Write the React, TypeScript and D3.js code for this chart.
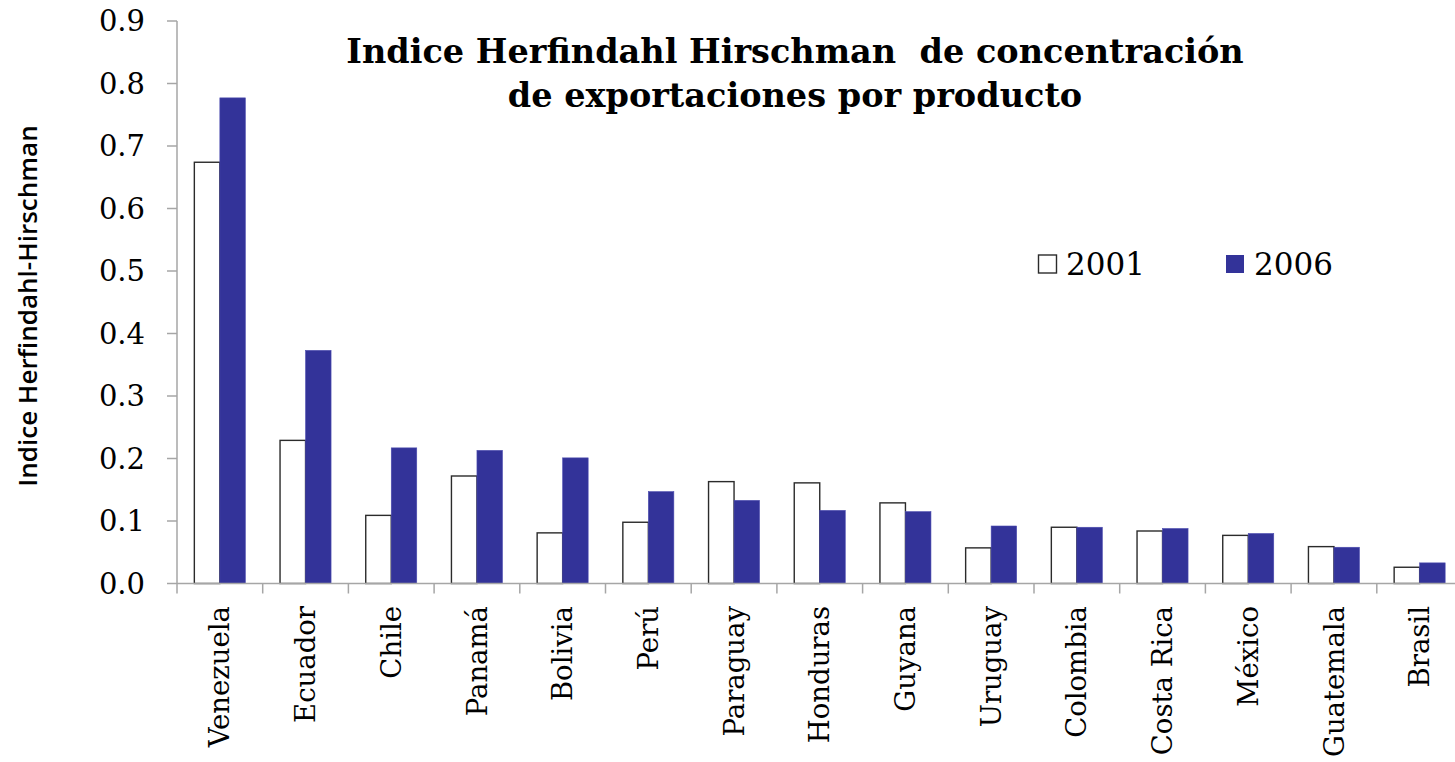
import React from "react";
import * as d3 from "d3";

const categories = [
  "Venezuela", "Ecuador", "Chile", "Panamá", "Bolivia", "Perú", "Paraguay",
  "Honduras", "Guyana", "Uruguay", "Colombia", "Costa Rica", "México",
  "Guatemala", "Brasil",
];
const seriesNames = ["2001", "2006"];
const values2001 = [0.674, 0.229, 0.109, 0.172, 0.081, 0.098, 0.163, 0.161, 0.129, 0.057, 0.090, 0.084, 0.077, 0.059, 0.026];
const values2006 = [0.777, 0.373, 0.217, 0.213, 0.201, 0.147, 0.133, 0.117, 0.115, 0.092, 0.090, 0.088, 0.080, 0.058, 0.033];
const yTicks = [0, 0.1, 0.2, 0.3, 0.4, 0.5, 0.6, 0.7, 0.8, 0.9];
const titleLines = ["Indice Herfindahl Hirschman  de concentración", "de exportaciones por producto"];
const yAxisTitle = "Indice Herfindahl-Hirschman";

const W = 1455;
const H = 762;
const BLUE = "#333399";
const AXIS = "#a6a6a6";
const SERIF = "'DejaVu Serif', serif";

export default function App() {
  const left = 177;
  const step = 85.7;
  const x0 = d3
    .scaleBand<string>()
    .domain(categories)
    .range([left, left + step * categories.length])
    .padding(0);
  const x1 = d3
    .scaleBand<string>()
    .domain(seriesNames)
    .range([0, x0.bandwidth()])
    .paddingInner(0)
    .paddingOuter(0.68);
  const y = d3.scaleLinear().domain([0, 0.9]).range([583.5, 21]);
  const fmt = d3.format(".1f");
  const seriesData = [values2001, values2006];
  const base = y(0);

  return (
    <svg
      width={W}
      height={H}
      style={{ position: "absolute", left: 0, top: 0, background: "#fff" }}
    >
      <rect x={0} y={0} width={W} height={H} fill="#fff" />
      {/* title */}
      <g fontFamily={SERIF} fontWeight="bold" fontSize={33.5} fill="#000" textAnchor="middle">
        {titleLines.map((t, i) => (
          <text key={i} x={795} y={63 + i * 44} xmlSpace="preserve" style={{ whiteSpace: "pre" }}>
            {t}
          </text>
        ))}
      </g>

      {/* bars */}
      {categories.map((c, i) => (
        <g key={c} transform={`translate(${x0(c)},0)`}>
          {seriesNames.map((s, j) => {
            const v = seriesData[j][i];
            const bx = x1(s) as number;
            return j === 0 ? (
              <rect
                key={s}
                x={bx}
                y={y(v)}
                width={x1.bandwidth()}
                height={base - y(v)}
                fill="#fff"
                stroke="#2b2b2b"
                strokeWidth={1.4}
              />
            ) : (
              <rect
                key={s}
                x={bx}
                y={y(v)}
                width={x1.bandwidth()}
                height={base - y(v)}
                fill={BLUE}
                stroke="#4b4bb0"
                strokeWidth={0.6}
              />
            );
          })}
        </g>
      ))}

      {/* y axis */}
      <line x1={left} x2={left} y1={y(0.9)} y2={base} stroke={AXIS} strokeWidth={1.5} />
      {yTicks.map((t) => (
        <g key={t}>
          <line x1={left - 10} x2={left} y1={y(t)} y2={y(t)} stroke={AXIS} strokeWidth={1.5} />
          <text
            x={145}
            y={y(t)}
            dy="0.36em"
            textAnchor="end"
            fontFamily={SERIF}
            fontSize={29}
            fill="#000"
          >
            {fmt(t)}
          </text>
        </g>
      ))}

      {/* x axis */}
      <line x1={left} x2={W} y1={base} y2={base} stroke={AXIS} strokeWidth={1.5} />
      {categories.map((c) => (
        <line
          key={c}
          x1={x0(c) as number}
          x2={x0(c) as number}
          y1={base}
          y2={base + 10}
          stroke={AXIS}
          strokeWidth={1.5}
        />
      ))}
      {categories.map((c) => {
        const cx = (x0(c) as number) + x0.bandwidth() / 2;
        return (
          <text
            key={c}
            transform={`translate(${cx},606) rotate(-90)`}
            dy="0.35em"
            textAnchor="end"
            fontFamily={SERIF}
            fontSize={27.5}
            fill="#000"
          >
            {c}
          </text>
        );
      })}

      {/* y axis title */}
      <text
        transform="translate(37,306) rotate(-90)"
        textAnchor="middle"
        fontFamily="'Open Sans', sans-serif"
        fontWeight={600}
        fontSize={26}
        fill="#000"
      >
        {yAxisTitle}
      </text>

      {/* legend */}
      <g>
        <rect x={1038.5} y={255} width={18} height={18} fill="#fff" stroke="#2b2b2b" strokeWidth={1.4} />
        <text x={1066} y={275} fontFamily={SERIF} fontSize={31} fill="#000">
          {seriesNames[0]}
        </text>
        <rect x={1226} y={255} width={18} height={18} fill={BLUE} />
        <text x={1254} y={275} fontFamily={SERIF} fontSize={31} fill="#000">
          {seriesNames[1]}
        </text>
      </g>
    </svg>
  );
}
